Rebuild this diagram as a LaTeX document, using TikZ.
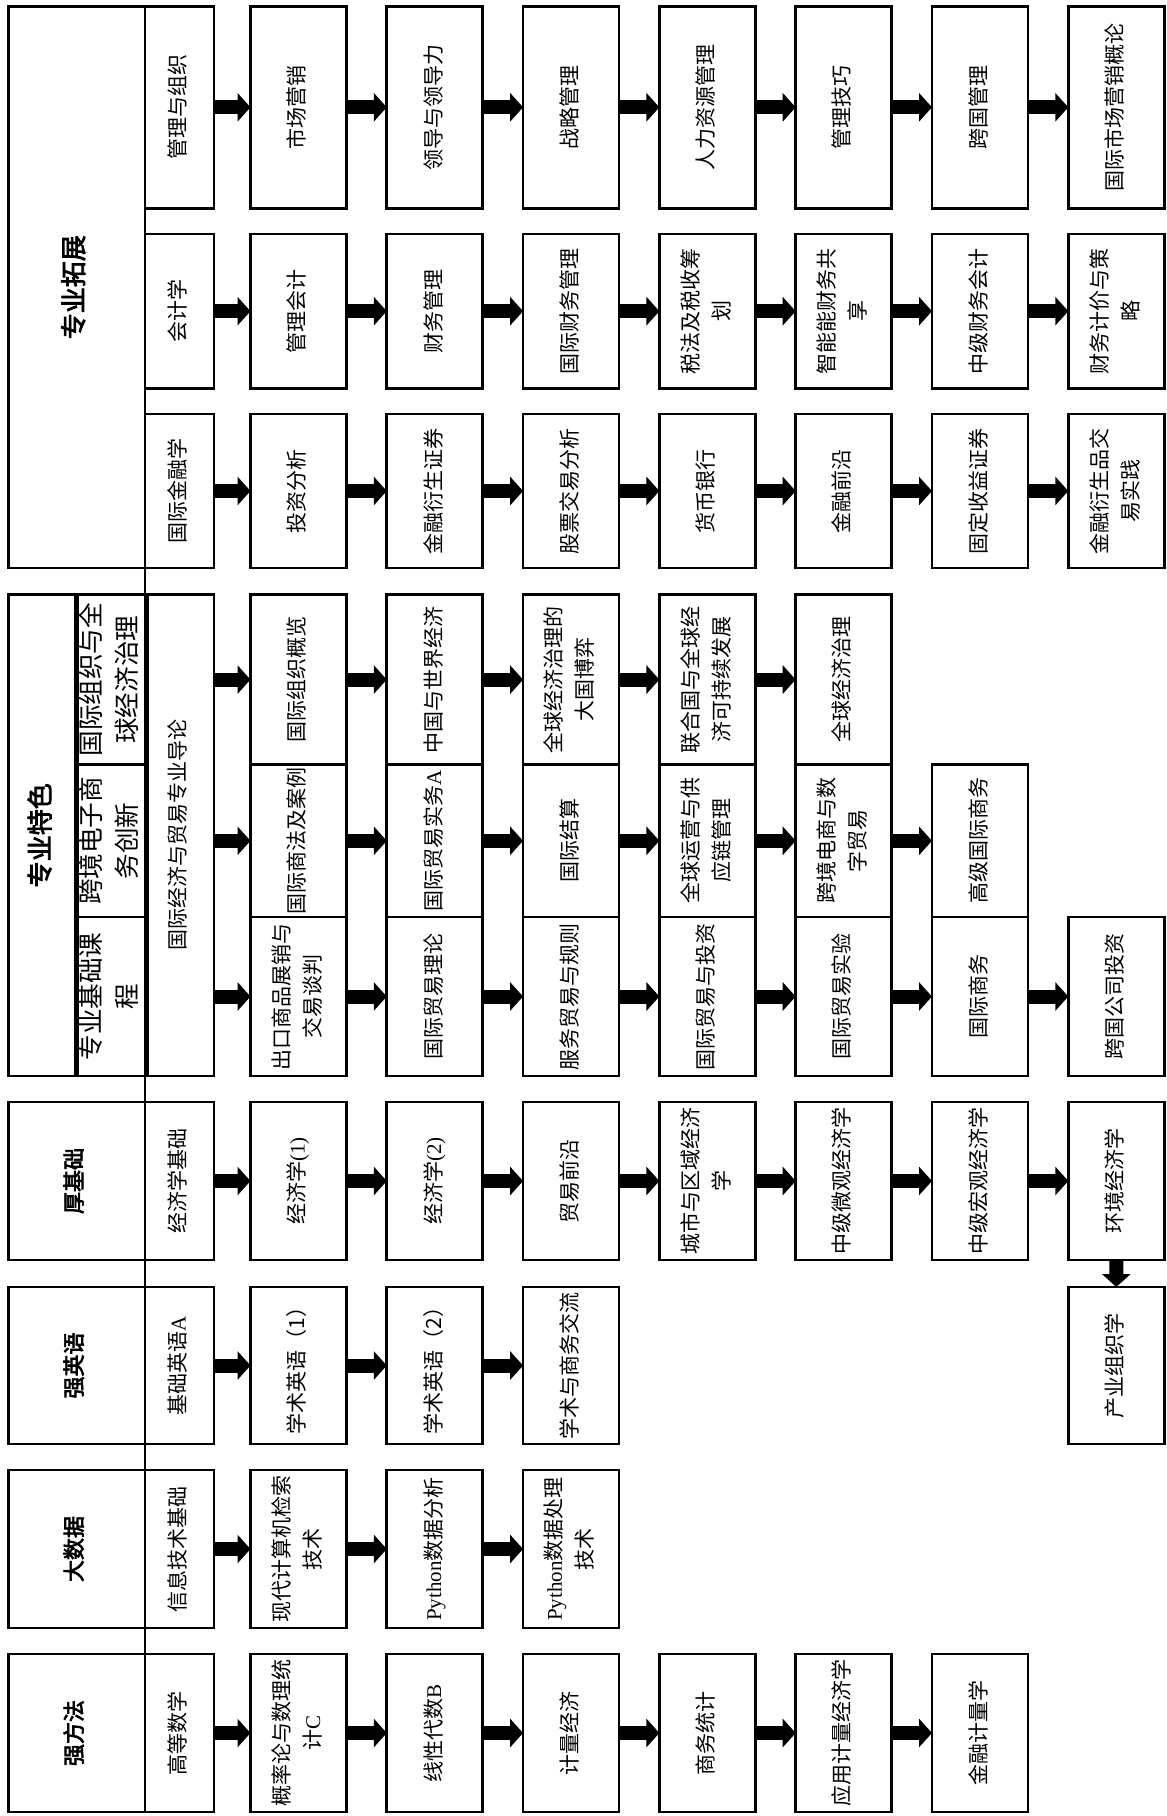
\documentclass[tikz,border=0pt]{standalone}
\usepackage{fontspec}
\usepackage{graphicx}
\setmainfont{Noto Sans CJK SC}
\newfontfamily\latinfont{Liberation Serif}
\newfontfamily\heavyfont[FakeBold=3]{Noto Sans CJK SC}
\usetikzlibrary{arrows.meta,positioning,calc}
\newcommand{\vlabel}[1]{\rotatebox{90}{\begin{tabular}{@{}c@{}}#1\end{tabular}}}

\begin{document}
\begin{tikzpicture}[x=0.5pt, y=-0.5pt,
   course/.style={draw, line width=1.35pt, inner sep=0pt, outer sep=0pt,
                  minimum width=48pt, font=\fontsize{10.5}{15.5}\selectfont},
   track/.style={course, minimum width=33.65pt, font=\fontsize{12.8}{18}\selectfont},
   block/.style={draw, line width=1.35pt, inner sep=0pt, outer sep=0pt,
                 minimum width=68.3pt, font=\heavyfont\fontsize{11}{13}\selectfont},
   flow/.style={line width=7pt, -{Triangle[length=6.5pt,width=14pt]}}]
\useasboundingbox (0,0) rectangle (1167,1816);

\node[block, minimum height=280.85pt, font=\heavyfont\fontsize{13}{15}\selectfont] (expand) at (76.7,287.2) {\vlabel{专业拓展}};
\foreach \lab [count=\i] in {管理与组织,市场营销,领导与领导力,战略管理,人力资源管理,管理技巧,跨国管理,国际市场营销概论}{
  \pgfmathsetmacro\cx{\i==1 ? 179.5 : 298.5+(\i-2)*136.3}
  \pgfmathsetmacro\bw{\i==1 ? 34.5 : 48}
  \node[course, minimum width=\bw pt, minimum height=101pt] (mgt\i) at (\cx,107.3) {\vlabel{\lab}};
}
\foreach \lab [count=\i] in {会计学,管理会计,财务管理,国际财务管理,{税法及税收筹\\划},{智能能财务共\\享},中级财务会计,{财务计价与策\\略}}{
  \pgfmathsetmacro\cx{\i==1 ? 179.5 : 298.5+(\i-2)*136.3}
  \pgfmathsetmacro\bw{\i==1 ? 34.5 : 48}
  \node[course, minimum width=\bw pt, minimum height=77.25pt] (acc\i) at (\cx,311.2) {\vlabel{\lab}};
}
\foreach \lab [count=\i] in {国际金融学,投资分析,金融衍生证券,股票交易分析,货币银行,金融前沿,固定收益证券,{金融衍生品交\\易实践}}{
  \pgfmathsetmacro\cx{\i==1 ? 179.5 : 298.5+(\i-2)*136.3}
  \pgfmathsetmacro\bw{\i==1 ? 34.5 : 48}
  \node[course, minimum width=\bw pt, minimum height=77pt] (fin\i) at (\cx,491) {\vlabel{\lab}};
}

\node[block, minimum width=34.65pt, minimum height=240.7pt, font=\heavyfont\fontsize{13}{15}\selectfont] (feature) at (43.05,835.3) {\vlabel{专业特色}};
\node[track, minimum height=85pt] (k1) at (111.35,679.6) {\vlabel{国际组织与全\\球经济治理}};
\node[track, minimum height=76.2pt] (k2) at (111.35,840.8) {\vlabel{跨境电子商\\务创新}};
\node[track, minimum height=79.5pt] (k3) at (111.35,996.5) {\vlabel{专业基础课\\程}};
\node[course, minimum width=34.5pt, minimum height=240.7pt] (intro) at (179.5,835.3) {\vlabel{国际经济与贸易专业导论}};
\foreach \lab [count=\i from 2] in {国际组织概览,中国与世界经济,{全球经济治理的\\大国博弈},{联合国与全球经\\济可持续发展},全球经济治理}{
  \pgfmathsetmacro\cx{298.5+(\i-2)*136.3}
  \node[course, minimum height=85pt] (org\i) at (\cx,679.6) {\vlabel{\lab}};
}
\foreach \lab [count=\i from 2] in {国际商法及案例,{国际贸易实务{\latinfont A}},国际结算,{全球运营与供\\应链管理},{跨境电商与数\\字贸易},高级国际商务}{
  \pgfmathsetmacro\cx{298.5+(\i-2)*136.3}
  \node[course, minimum height=76.2pt] (ecom\i) at (\cx,840.8) {\vlabel{\lab}};
}
\foreach \lab [count=\i from 2] in {{出口商品展销与\\交易谈判},国际贸易理论,服务贸易与规则,国际贸易与投资,国际贸易实验,国际商务,跨国公司投资}{
  \pgfmathsetmacro\cx{298.5+(\i-2)*136.3}
  \node[course, minimum height=79.5pt] (base\i) at (\cx,996.5) {\vlabel{\lab}};
}

\node[block, minimum height=79pt] (theory) at (76.7,1181) {\vlabel{厚基础}};
\foreach \lab [count=\i] in {经济学基础,{经济学{\latinfont(1)}},{经济学{\latinfont(2)}},贸易前沿,{城市与区域经济\\学},中级微观经济学,中级宏观经济学,环境经济学}{
  \pgfmathsetmacro\cx{\i==1 ? 179.5 : 298.5+(\i-2)*136.3}
  \pgfmathsetmacro\bw{\i==1 ? 34.5 : 48}
  \node[course, minimum width=\bw pt, minimum height=79pt] (eco\i) at (\cx,1181) {\vlabel{\lab}};
}
\node[course, minimum height=78.5pt] (ind) at (1116.3,1365.5) {\vlabel{产业组织学}};

\node[block, minimum height=78.5pt] (english) at (76.7,1365.5) {\vlabel{强英语}};
\foreach \lab [count=\i] in {{基础英语{\latinfont A}},学术英语（1）,学术英语（2）,学术与商务交流}{
  \pgfmathsetmacro\cx{\i==1 ? 179.5 : 298.5+(\i-2)*136.3}
  \pgfmathsetmacro\bw{\i==1 ? 34.5 : 48}
  \node[course, minimum width=\bw pt, minimum height=78.5pt] (eng\i) at (\cx,1365.5) {\vlabel{\lab}};
}

\node[block, minimum height=79pt] (bigdata) at (76.7,1549) {\vlabel{大数据}};
\foreach \lab [count=\i] in {信息技术基础,{现代计算机检索\\技术},{{\latinfont Python}数据分析},{{\latinfont Python}数据处理\\技术}}{
  \pgfmathsetmacro\cx{\i==1 ? 179.5 : 298.5+(\i-2)*136.3}
  \pgfmathsetmacro\bw{\i==1 ? 34.5 : 48}
  \node[course, minimum width=\bw pt, minimum height=79pt] (data\i) at (\cx,1549) {\vlabel{\lab}};
}

\node[block, minimum height=79pt] (method) at (76.7,1733) {\vlabel{强方法}};
\foreach \lab [count=\i] in {高等数学,{概率论与数理统\\计{\latinfont C}},{线性代数{\latinfont B}},计量经济,商务统计,应用计量经济学,金融计量学}{
  \pgfmathsetmacro\cx{\i==1 ? 179.5 : 298.5+(\i-2)*136.3}
  \pgfmathsetmacro\bw{\i==1 ? 34.5 : 48}
  \node[course, minimum width=\bw pt, minimum height=79pt] (math\i) at (\cx,1733) {\vlabel{\lab}};
}

\draw[line width=1.35pt] (expand.north east) -- (method.south east);

\foreach \rw/\first/\last in {mgt/1/7,acc/1/7,fin/1/7,eco/1/7,eng/1/3,data/1/3,math/1/6,org/2/5,ecom/2/6,base/2/7}{
  \foreach \i in {\first,...,\last}{
    \pgfmathtruncatemacro\nx{\i+1}
    \draw[flow] (\rw\i.east) -- (\rw\nx.west);
  }
}
\foreach \rw in {org,ecom,base}
  \draw[flow] (intro.east |- \rw2) -- (\rw2.west);
\draw[flow] (eco8.south) -- (ind.north);
\end{tikzpicture}
\end{document}
